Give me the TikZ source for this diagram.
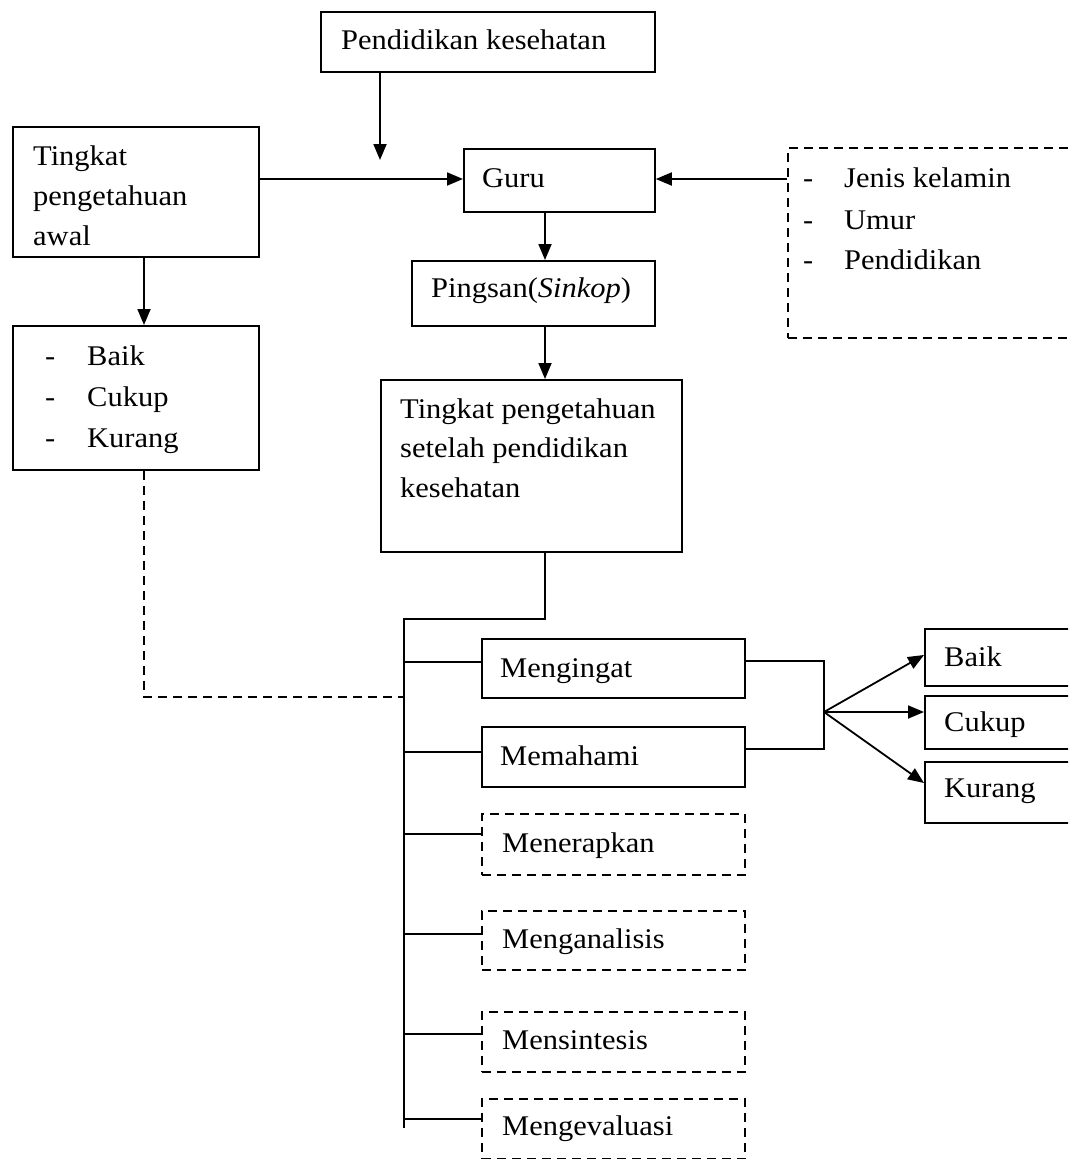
\documentclass[tikz,border=0pt]{standalone}
\usepackage{fontspec}
\setmainfont{Liberation Serif}[FakeStretch=1.07]
\usetikzlibrary{arrows.meta}
\begin{document}
\begin{tikzpicture}[x=1pt,y=-1pt,
  box/.style={draw, line width=1.8pt, rectangle, inner sep=0pt, anchor=north west},
  dbox/.style={box, dash pattern=on 9pt off 6pt},
  txt/.style={anchor=base west, inner sep=0pt, font=\fontsize{28.5pt}{40pt}\selectfont},
  ln/.style={line width=1.8pt},
  dln/.style={line width=1.8pt, dash pattern=on 9pt off 6pt},
  arr/.style={line width=1.8pt, -{Triangle[length=16pt,width=13pt]}}]
\useasboundingbox (0,0) rectangle (1068,1159);
\clip (0,0) rectangle (1068,1159);
\fill[white] (0,0) rectangle (1068,1159);

% boxes
\node[box, minimum width=334pt, minimum height=60pt] (pk) at (320,11) {};
\node[box, minimum width=246pt, minimum height=130pt] (ta) at (12,126) {};
\node[box, minimum width=191pt, minimum height=63pt] (guru) at (463,148) {};
\node[box, minimum width=243pt, minimum height=65pt] (ping) at (411,260) {};
\node[dbox, minimum width=300pt, minimum height=190pt] (jk) at (787,147) {};
\node[box, minimum width=246pt, minimum height=144pt] (lb) at (12,325) {};
\node[box, minimum width=301pt, minimum height=172pt] (tps) at (380,379) {};
\node[box, minimum width=263pt, minimum height=59pt] (meng) at (481,638) {};
\node[box, minimum width=263pt, minimum height=60pt] (mema) at (481,726) {};
\node[dbox, minimum width=263pt, minimum height=61pt] (mener) at (481,813) {};
\node[dbox, minimum width=263pt, minimum height=59pt] (menga) at (481,910) {};
\node[dbox, minimum width=263pt, minimum height=60pt] (mensi) at (481,1011) {};
\node[dbox, minimum width=263pt, minimum height=60pt] (menge) at (481,1098) {};
\node[box, minimum width=160pt, minimum height=57pt] (rb) at (924,628) {};
\node[box, minimum width=160pt, minimum height=53pt] (rc) at (924,695) {};
\node[box, minimum width=160pt, minimum height=61pt] (rk) at (924,761) {};

% texts
\node[txt] (tpk) at (341,49) {Pendidikan kesehatan};
\node[txt] (ta1) at (33,165) {Tingkat};
\node[txt] (ta2) at (33,205) {pengetahuan};
\node[txt] (ta3) at (33,245) {awal};
\node[txt] (tguru) at (482,187) {Guru};
\node[txt] (tping) at (431,297) {Pingsan(\textit{Sinkop})};
\node[txt] (jd1) at (803,187) {-};
\node[txt] (jd2) at (803,229) {-};
\node[txt] (jd3) at (803,269) {-};
\node[txt] (jt1) at (844,187) {Jenis kelamin};
\node[txt] (jt2) at (844,229) {Umur};
\node[txt] (jt3) at (844,269) {Pendidikan};
\node[txt] (ld1) at (45,365) {-};
\node[txt] (ld2) at (45,406) {-};
\node[txt] (ld3) at (45,447) {-};
\node[txt] (lt1) at (87,365) {Baik};
\node[txt] (lt2) at (87,406) {Cukup};
\node[txt] (lt3) at (87,447) {Kurang};
\node[txt] (tp1) at (400,418) {Tingkat pengetahuan};
\node[txt] (tp2) at (400,457) {setelah pendidikan};
\node[txt] (tp3) at (400,497) {kesehatan};
\node[txt] (tmeng) at (500,677) {Mengingat};
\node[txt] (tmema) at (500,765) {Memahami};
\node[txt] (tmener) at (502,852) {Menerapkan};
\node[txt] (tmenga) at (502,948) {Menganalisis};
\node[txt] (tmensi) at (502,1049) {Mensintesis};
\node[txt] (tmenge) at (502,1135) {Mengevaluasi};
\node[txt] (trb) at (944,666) {Baik};
\node[txt] (trc) at (944,731) {Cukup};
\node[txt] (trk) at (944,797) {Kurang};

% helper coordinates
\coordinate (pkend) at (380,160);
\coordinate (h1) at (0,179);
\coordinate (v1) at (545,0);
\coordinate (v2) at (144,0);
\coordinate (tj) at (545,619);
\coordinate (tk) at (404,619);
\coordinate (tend) at (404,1128);
\coordinate (dc) at (144,697);
\coordinate (b1) at (0,662);
\coordinate (b2) at (0,752);
\coordinate (b3) at (0,834);
\coordinate (b4) at (0,934);
\coordinate (b5) at (0,1034);
\coordinate (b6) at (0,1119);
\coordinate (br1) at (824,661);
\coordinate (br2) at (824,749);
\coordinate (fan) at (824,712);
\coordinate (f1) at (0,655);
\coordinate (f2) at (0,712);
\coordinate (f3) at (0,783);

% connectors
\draw[arr] (pkend |- pk.south) -- (pkend);
\draw[arr] (ta.east |- h1) -- (guru.west |- h1);
\draw[arr] (jk.west |- h1) -- (guru.east |- h1);
\draw[arr] (guru.south -| v1) -- (ping.north -| v1);
\draw[arr] (ping.south -| v1) -- (tps.north -| v1);
\draw[arr] (ta.south -| v2) -- (lb.north -| v2);
\draw[ln] (tps.south -| tj) -- (tj) -- (tk) -- (tend);
\draw[dln] (lb.south -| dc) -- (dc) -- (tk |- dc);
\draw[ln] (tk |- b1) -- (meng.west |- b1);
\draw[ln] (tk |- b2) -- (mema.west |- b2);
\draw[ln] (tk |- b3) -- (mener.west |- b3);
\draw[ln] (tk |- b4) -- (menga.west |- b4);
\draw[ln] (tk |- b5) -- (mensi.west |- b5);
\draw[ln] (tk |- b6) -- (menge.west |- b6);
\draw[ln] (meng.east |- br1) -- (br1) -- (br2) -- (mema.east |- br2);
\draw[arr] (fan) -- (rb.west |- f1);
\draw[arr] (fan) -- (rc.west |- f2);
\draw[arr] (fan) -- (rk.west |- f3);
\end{tikzpicture}
\end{document}
